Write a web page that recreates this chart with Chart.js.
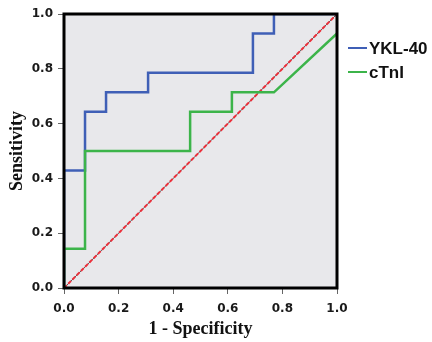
<!DOCTYPE html>
<html><head><meta charset="utf-8">
<script src="https://cdn.jsdelivr.net/npm/chart.js@4"></script>
<style>html,body{margin:0;padding:0;background:#fff}#wrap{width:432px;height:342px}</style>
</head><body><div id="wrap"><canvas id="c" width="432" height="342"></canvas></div>
<script>
// ROC coordinates (1 - Specificity, Sensitivity)
const yklX = [0, 0, 0.077, 0.077, 0.154, 0.154, 0.308, 0.308, 0.692, 0.692, 0.769, 0.769, 1.0];
const yklY = [0, 0.429, 0.429, 0.643, 0.643, 0.714, 0.714, 0.786, 0.786, 0.929, 0.929, 1.0, 1.0];
const ctnX = [0, 0, 0.077, 0.077, 0.462, 0.462, 0.615, 0.615, 0.769, 1.0];
const ctnY = [0, 0.143, 0.143, 0.5, 0.5, 0.643, 0.643, 0.714, 0.714, 0.929];
const refX = [0, 1];
const refY = [0, 1];
const seriesNames = ['YKL-40', 'cTnI'];
const tickValues = [0, 0.2, 0.4, 0.6, 0.8, 1.0];

const pts = (xs, ys) => xs.map((x, i) => ({x, y: ys[i]}));

const bgPlugin = {
  id: 'bg',
  beforeDatasetsDraw(chart) {
    const {ctx, chartArea: a} = chart;
    ctx.save(); ctx.fillStyle = '#e8e8eb';
    ctx.fillRect(a.left, a.top, a.right - a.left, a.bottom - a.top);
    ctx.restore();
  },
  afterDatasetsDraw(chart) {
    const {ctx, chartArea: a} = chart;
    ctx.save(); ctx.strokeStyle = '#000'; ctx.lineWidth = 3;
    ctx.strokeRect(a.left, a.top, a.right - a.left, a.bottom - a.top);
    // legend
    ctx.font = 'bold 17px "Liberation Sans", Arial, sans-serif';
    ctx.textBaseline = 'middle'; ctx.textAlign = 'left';
    chart.data.datasets.filter(d => d.showInLegend).forEach((d, i) => {
      const y = 48 + i * 24;
      ctx.strokeStyle = d.borderColor; ctx.lineWidth = 2;
      ctx.beginPath(); ctx.moveTo(348, y); ctx.lineTo(367, y); ctx.stroke();
      ctx.fillStyle = '#111'; ctx.fillText(d.label, 369, y + 1);
    });
    ctx.restore();
  }
};

const tickFont = {family: '"DejaVu Sans", Verdana, sans-serif', weight: 'bold', size: 12};
const titleFont = {family: '"Liberation Serif", "Times New Roman", serif', weight: 'bold', size: 18};

new Chart(document.getElementById('c'), {
  type: 'line',
  data: {
    datasets: [
      {label: seriesNames[0], data: pts(yklX, yklY), borderColor: '#3f5fb6', borderWidth: 2.5, pointRadius: 0, fill: false, showInLegend: true, order: 1},
      {label: seriesNames[1], data: pts(ctnX, ctnY), borderColor: '#3cb44a', borderWidth: 2.5, pointRadius: 0, fill: false, showInLegend: true, order: 0},
      {label: 'ref', data: pts(refX, refY), borderColor: '#ec2f3a', borderWidth: 2, borderDash: [4, 2], pointRadius: 0, fill: false, order: 2},
      {label: 'refBase', data: pts(refX, refY), borderColor: '#555', borderWidth: 1, pointRadius: 0, fill: false, order: 3}
    ]
  },
  options: {
    responsive: false, animation: false,
    layout: {padding: {top: 14, right: 95, left: 0, bottom: 0}},
    plugins: {legend: {display: false}, tooltip: {enabled: false}},
    scales: {
      x: {
        type: 'linear', min: 0, max: 1,
        afterBuildTicks: s => { s.ticks = tickValues.map(v => ({value: v})); },
        afterFit: s => { s.height = 54; },
        ticks: {font: tickFont, color: '#1a1a1a', padding: 8, maxRotation: 0, callback: v => v.toFixed(1)},
        grid: {display: true, drawOnChartArea: false, drawTicks: true, tickLength: 6, color: '#666', lineWidth: 1},
        border: {display: false},
        title: {display: true, text: '1 - Specificity', font: titleFont, color: '#111', padding: {top: 0, bottom: 2}}
      },
      y: {
        type: 'linear', min: 0, max: 1,
        afterBuildTicks: s => { s.ticks = tickValues.map(v => ({value: v})); },
        afterFit: s => { s.width = 64; },
        ticks: {font: tickFont, color: '#1a1a1a', padding: 5, callback: v => v.toFixed(1)},
        grid: {display: true, drawOnChartArea: false, drawTicks: true, tickLength: 6, color: '#666', lineWidth: 1},
        border: {display: false},
        title: {display: true, text: 'Sensitivity', font: titleFont, color: '#111', padding: {top: 7, bottom: 0}}
      }
    }
  },
  plugins: [bgPlugin]
});
</script></body></html>
